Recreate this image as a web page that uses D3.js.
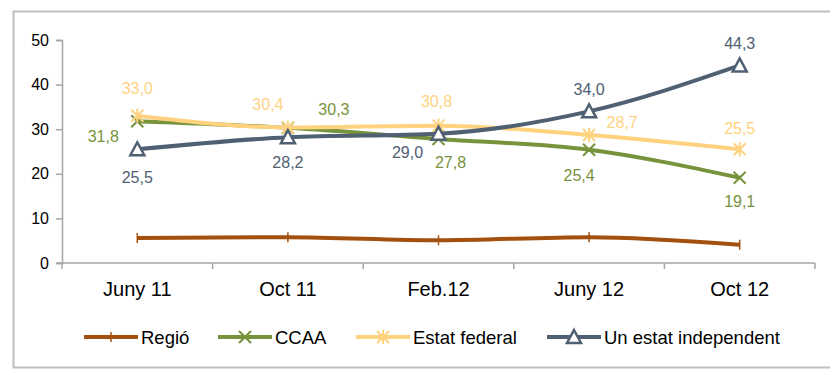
<!DOCTYPE html>
<html>
<head>
<meta charset="utf-8">
<script src="https://cdn.jsdelivr.net/npm/d3@7"></script>
<style>
  body { margin: 0; background: #fff; }
  svg { font-family: "Liberation Sans", Arial, sans-serif; }
</style>
</head>
<body>
<div id="chart"></div>
<script>
// data
var categories = ["Juny 11", "Oct 11", "Feb.12", "Juny 12", "Oct 12"]
var regio = [5.6, 5.8, 5.1, 5.8, 4.1]
var ccaa = [31.8, 30.3, 27.8, 25.4, 19.1]
var federal = [33.0, 30.4, 30.8, 28.7, 25.5]
var independent = [25.5, 28.2, 29.0, 34.0, 44.3]
var yTicks = [0, 10, 20, 30, 40, 50]

var series = [
  {name: "Regió", values: regio, color: "#a3500f", marker: "plus", labels: false},
  {name: "CCAA", values: ccaa, color: "#77933c", marker: "x", labels: true,
   off: [[-34, 21], [46, -13], [12, 29], [-10, 31], [0, 29]]},
  {name: "Estat federal", values: federal, color: "#ffd27f", marker: "star", labels: true,
   off: [[0, -22], [-20, -17], [-2, -19], [33, -7], [0, -15]]},
  {name: "Un estat independent", values: independent, color: "#4f6073", marker: "tri", labels: true,
   off: [[0, 34], [0, 31], [-31, 24], [0, -16], [0, -16]]}
]

var W = 830, H = 370
var margin = {left: 62, right: 15, top: 40, bottom: 107}

var svg = d3.select("#chart").append("svg")
  .attr("width", W).attr("height", H)

// outer frame
svg.append("rect")
  .attr("x", 13.5).attr("y", 11.5)
  .attr("width", 830).attr("height", 356)
  .attr("fill", "none").attr("stroke", "#bfbfbf").attr("stroke-width", 2)

var x = d3.scaleBand()
  .domain(categories)
  .range([margin.left, W - margin.right])

var y = d3.scaleLinear()
  .domain([0, 50])
  .range([H - margin.bottom, margin.top])

// y axis
var yAxis = svg.append("g")
  .attr("transform", "translate(" + margin.left + ",0)")
  .call(d3.axisLeft(y).tickValues(yTicks).tickSize(6).tickPadding(7))
yAxis.selectAll("path, line").attr("stroke", "#a6a6a6").attr("stroke-width", 1.5)
yAxis.selectAll("text").attr("font-size", 16).attr("fill", "#000")
  .style("font-family", "Liberation Sans, Arial, sans-serif")

// x axis
var xAxis = svg.append("g")
  .attr("transform", "translate(0," + y(0) + ")")
  .call(d3.axisBottom(x).tickSize(0).tickPadding(19))
xAxis.select(".domain").attr("stroke", "#a6a6a6").attr("stroke-width", 1.5)
  .attr("d", "M" + (margin.left - 5) + ",0H" + (W - margin.right))
xAxis.selectAll("text").attr("font-size", 20).attr("fill", "#000")
  .style("font-family", "Liberation Sans, Arial, sans-serif")
// category boundary ticks
var bounds = categories.map(c => x(c)).concat([x(categories[categories.length - 1]) + x.bandwidth()])
xAxis.selectAll(".btick").data(bounds).enter().append("line")
  .attr("x1", d => d).attr("x2", d => d)
  .attr("y1", 0).attr("y2", 6)
  .attr("stroke", "#a6a6a6").attr("stroke-width", 1.5)

var cx = c => x(c) + x.bandwidth() / 2

function marker(g, type, color, px, py) {
  var s = 6
  if (type == "plus") {
    g.append("line").attr("x1", px).attr("x2", px).attr("y1", py - 5).attr("y2", py + 5)
      .attr("stroke", color).attr("stroke-width", 1.5)
  } else if (type == "x") {
    g.append("path")
      .attr("d", "M" + (px - s) + "," + (py - s) + "L" + (px + s) + "," + (py + s) +
        "M" + (px - s) + "," + (py + s) + "L" + (px + s) + "," + (py - s))
      .attr("stroke", color).attr("stroke-width", 2).attr("fill", "none")
  } else if (type == "star") {
    g.append("path")
      .attr("d", "M" + (px - s) + "," + (py - s) + "L" + (px + s) + "," + (py + s) +
        "M" + (px - s) + "," + (py + s) + "L" + (px + s) + "," + (py - s) +
        "M" + px + "," + (py - s - 1) + "L" + px + "," + (py + s + 1))
      .attr("stroke", color).attr("stroke-width", 2).attr("fill", "none")
  } else if (type == "tri") {
    g.append("path")
      .attr("d", "M" + px + "," + (py - 7) + "L" + (px + 7) + "," + (py + 6) + "L" + (px - 7) + "," + (py + 6) + "Z")
      .attr("stroke", color).attr("stroke-width", 2.5).attr("fill", "#fff")
  }
}

var line = d3.line()
  .x((d, i) => cx(categories[i]))
  .y(d => y(d))
  .curve(d3.curveMonotoneX)

series.forEach(function (s) {
  var g = svg.append("g")
  g.append("path")
    .attr("d", line(s.values))
    .attr("fill", "none")
    .attr("stroke", s.color)
    .attr("stroke-width", 4)
  s.values.forEach(function (v, i) {
    marker(g, s.marker, s.color, cx(categories[i]), y(v))
  })
})

// labels on top
series.forEach(function (s) {
  if (!s.labels) return
  s.values.forEach(function (v, i) {
    svg.append("text")
      .attr("x", cx(categories[i]) + s.off[i][0])
      .attr("y", y(v) + s.off[i][1])
      .attr("text-anchor", "middle")
      .attr("font-size", 16)
      .attr("fill", s.color)
      .text(d3.format(".1f")(v).replace(".", ","))
  })
})

// legend
var legendX = [84, 218, 356, 547]
var legendY = 337
series.forEach(function (s, i) {
  var g = svg.append("g")
  var lx = legendX[i]
  g.append("line")
    .attr("x1", lx).attr("x2", lx + 54)
    .attr("y1", legendY).attr("y2", legendY)
    .attr("stroke", s.color).attr("stroke-width", 4)
  marker(g, s.marker, s.color, lx + 27, legendY)
  g.append("text")
    .attr("x", lx + 57).attr("y", legendY + 7)
    .attr("font-size", 18.5).attr("fill", "#000")
    .text(s.name)
})
</script>
</body>
</html>
